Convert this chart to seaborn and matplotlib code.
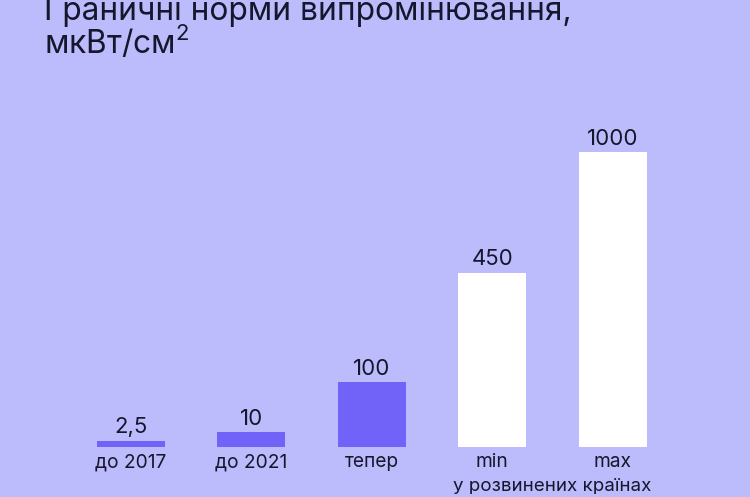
import numpy as np
import pandas as pd
import matplotlib
matplotlib.use("Agg")
import matplotlib.pyplot as plt
import seaborn as sns

# --- data ---
categories = ["до 2017", "до 2021", "тепер", "min", "max"]
values = [2.5, 10, 100, 450, 1000]
bar_colors = ["#7263f8", "#7263f8", "#7263f8", "#ffffff", "#ffffff"]
group_label = "у розвинених країнах"
title_line1 = "Граничні норми випромінювання,"
title_line2 = "мкВт/см"

bg = "#bcbbfc"
ink = "#16162c"

sns.set_theme(style="white")
plt.rcParams["font.family"] = ["Inter", "DejaVu Sans"]
plt.rcParams["mathtext.fontset"] = "custom"
plt.rcParams["mathtext.rm"] = "Inter"
plt.rcParams["mathtext.default"] = "rm"

df = pd.DataFrame({"cat": categories, "val": values})

fig = plt.figure(figsize=(7.5, 4.97), dpi=100, facecolor=bg)
ax = fig.add_axes([0.0943, 0.1016, 0.803, 0.5926])
ax.set_facecolor(bg)

# bar heights in the original are compressed, so use a power scale
power = 0.66
ax.set_yscale("function", functions=(lambda v: np.sign(v) * np.abs(v) ** power,
                                     lambda v: np.sign(v) * np.abs(v) ** (1 / power)))

sns.barplot(data=df, x="cat", y="val", hue="cat", palette=bar_colors,
            width=0.564, saturation=1, legend=False, linewidth=0, ax=ax)

ax.set_xlim(-0.5, 4.5)
ax.set_ylim(0, 1000)

for container in ax.containers:
    for bar in container:
        v = bar.get_height()
        txt = f"{v:g}".replace(".", ",")
        ax.annotate(txt, (bar.get_x() + bar.get_width() / 2, v),
                    xytext=(0, 2.5), textcoords="offset points",
                    ha="center", va="bottom", fontsize=16, color=ink,
                    annotation_clip=False)

ax.set_xlabel("")
ax.set_ylabel("")
ax.set_yticks([])
ax.tick_params(axis="x", length=0, pad=5, labelsize=13.8, labelcolor=ink)
for s in ax.spines.values():
    s.set_visible(False)

ax.annotate(group_label, (3.5, 0), xytext=(0, -22.5), textcoords="offset points",
            ha="center", va="top", fontsize=13.5, color=ink, annotation_clip=False)

fig.text(0.058, 1 - 20 / 497, title_line1, fontsize=22.8, color=ink, va="baseline")
fig.text(0.058, 1 - 54 / 497, title_line2 + r"$^{2}$", fontsize=22.8, color=ink,
         va="baseline")

fig.savefig("out.png", dpi=100, facecolor=bg)
